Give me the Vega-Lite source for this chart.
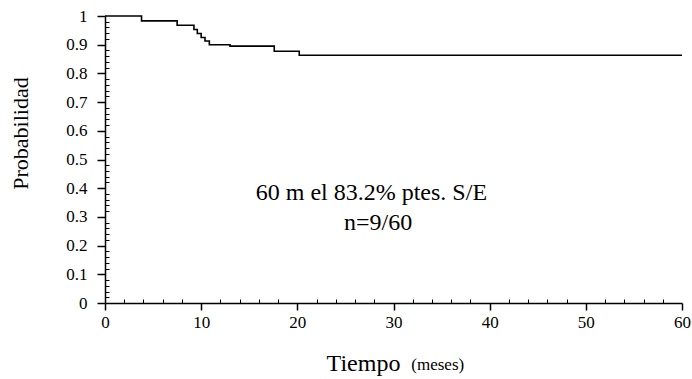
{
  "$schema": "https://vega.github.io/schema/vega-lite/v6.json",
  "width": 577,
  "height": 287,
  "autosize": {"type": "none"},
  "padding": {"left": 105, "top": 16, "right": 10, "bottom": 76},
  "background": "white",
  "config": {
    "view": {"stroke": null},
    "font": "Liberation Serif",
    "axis": {"grid": false, "domainColor": "black", "tickColor": "black", "labelColor": "black", "titleColor": "black", "labelFont": "Liberation Serif", "titleFont": "Liberation Serif", "titleFontWeight": "normal"}
  },
  "datasets": {
    "km": [
      {"t": 0, "s": 1.0},
      {"t": 3.8, "s": 0.983},
      {"t": 7.5, "s": 0.968},
      {"t": 9.25, "s": 0.953},
      {"t": 9.6, "s": 0.939},
      {"t": 10.0, "s": 0.925},
      {"t": 10.4, "s": 0.913},
      {"t": 10.85, "s": 0.9},
      {"t": 13.0, "s": 0.895},
      {"t": 17.6, "s": 0.877},
      {"t": 20.2, "s": 0.863},
      {"t": 60, "s": 0.863}
    ],
    "notes": [
      {"t": 27.7, "s": 0.359, "label": "60 m el 83.2% ptes. S/E"},
      {"t": 28.4, "s": 0.255, "label": "n=9/60"}
    ],
    "unit": [
      {"t": 34.6, "s": -0.232, "label": "(meses)"}
    ]
  },
  "layer": [
    {
      "data": {"name": "km"},
      "mark": {"type": "line", "interpolate": "step-after", "color": "black", "strokeWidth": 1.6},
      "encoding": {
        "x": {"field": "t", "type": "quantitative", "scale": {"domain": [0, 60], "nice": false, "zero": false},
          "axis": {"orient": "bottom", "tickCount": 100, "format": "d", "values": [0,2,4,6,8,10,12,14,16,18,20,22,24,26,28,30,32,34,36,38,40,42,44,46,48,50,52,54,56,58,60],
            "tickSize": {"condition": {"test": "datum.value % 10 === 0", "value": 7}, "value": -4},
            "tickWidth": {"condition": {"test": "datum.value % 10 === 0", "value": 1.5}, "value": 1},
            "labelExpr": "datum.value % 10 === 0 ? datum.label : ''",
            "domainWidth": 1.5, "labelFontSize": 17, "labelPadding": 4, "labelFlush": false, "labelOverlap": false,
            "title": "Tiempo", "titleFontSize": 24, "titleX": 258, "titleY": 67, "titleBaseline": "alphabetic", "titleAlign": "center"}},
        "y": {"field": "s", "type": "quantitative", "scale": {"domain": [0, 1], "nice": false},
          "axis": {"orient": "left", "tickCount": 100, "values": [0,0.02,0.04,0.06,0.08,0.1,0.12,0.14,0.16,0.18,0.2,0.22,0.24,0.26,0.28,0.3,0.32,0.34,0.36,0.38,0.4,0.42,0.44,0.46,0.48,0.5,0.52,0.54,0.56,0.58,0.6,0.62,0.64,0.66,0.68,0.7,0.72,0.74,0.76,0.78,0.8,0.82,0.84,0.86,0.88,0.9,0.92,0.94,0.96,0.98,1],
            "format": "~g",
            "tickSize": {"condition": {"test": "abs(datum.value*10 - round(datum.value*10)) < 0.001", "value": 8}, "value": -4},
            "tickWidth": {"condition": {"test": "abs(datum.value*10 - round(datum.value*10)) < 0.001", "value": 1.5}, "value": 1},
            "labelExpr": "abs(datum.value*10 - round(datum.value*10)) < 0.001 ? datum.label : ''",
            "domainWidth": 1.5, "labelFontSize": 17, "labelPadding": 10, "labelFlush": false, "labelOverlap": false,
            "title": "Probabilidad", "titleFontSize": 22, "titleAngle": -90, "titleX": -85, "titleY": 117, "titleAlign": "center", "titleBaseline": "middle"}}
      }
    },
    {
      "data": {"name": "notes"},
      "mark": {"type": "text", "fontSize": 24, "font": "Liberation Serif", "color": "black", "align": "center", "baseline": "alphabetic"},
      "encoding": {
        "x": {"field": "t", "type": "quantitative"},
        "y": {"field": "s", "type": "quantitative"},
        "text": {"field": "label"}
      }
    },
    {
      "data": {"name": "unit"},
      "mark": {"type": "text", "fontSize": 17, "font": "Liberation Serif", "color": "black", "align": "center", "baseline": "alphabetic", "clip": false},
      "encoding": {
        "x": {"field": "t", "type": "quantitative"},
        "y": {"field": "s", "type": "quantitative"},
        "text": {"field": "label"}
      }
    }
  ]
}
